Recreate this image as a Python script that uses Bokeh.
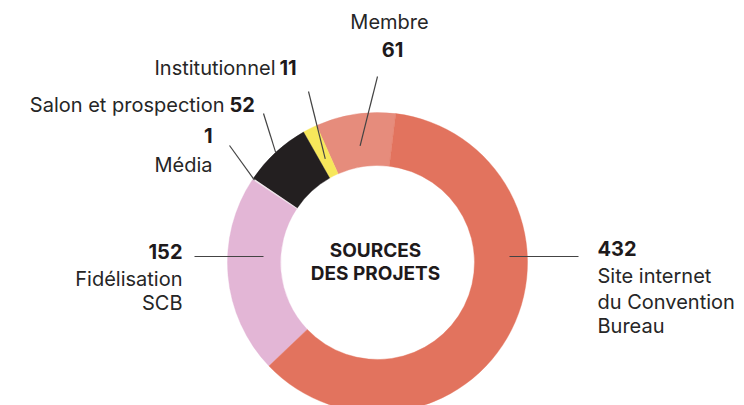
import math
from bokeh.plotting import figure
from bokeh.models import Range1d, ColumnDataSource
from bokeh.core.properties import value
from bokeh.embed import file_html
from bokeh.resources import INLINE

# ---- data (counter-clockwise order starting near 12 o'clock) ----
categories = ["Membre", "Institutionnel", "Salon et prospection", "Média",
              "Fidélisation SCB", "Site internet du Convention Bureau"]
counts = [61, 11, 52, 1, 152, 432]
colors = ["#E68C7C", "#F7E75B", "#231F20", "#F4ECF0", "#E3B6D6", "#E2735E"]
center_title = ["SOURCES", "DES PROJETS"]

W, H = 744, 405
def X(xr):
    return xr
def Y(yr):
    return H - yr

TXT_DY = 8  # baseline correction for svg text

CX, CY = X(377), Y(262)
R_IN, R_OUT = 97, 150
START_DEG = 90 - 7

total = sum(counts)
starts, ends, mids = [], [], []
acc = math.radians(START_DEG)
for c in counts:
    a = 2 * math.pi * c / total
    starts.append(acc)
    ends.append(acc + a)
    mids.append(acc + a / 2)
    acc += a

p = figure(width=W, height=H, output_backend="svg", toolbar_location=None,
           x_range=Range1d(0, W), y_range=Range1d(0, H),
           x_axis_type=None, y_axis_type=None, min_border=0)
p.grid.grid_line_color = None
p.outline_line_color = None
p.background_fill_color = "white"
p.border_fill_color = "white"

src = ColumnDataSource(dict(start=starts, end=ends, color=colors))
p.annular_wedge(x=CX, y=CY, inner_radius=R_IN, outer_radius=R_OUT,
                start_angle="start", end_angle="end", direction="anticlock",
                fill_color="color", line_color="color", line_width=0.4, source=src)

FONT = value("Inter")
REG = "#262626"
BLD = "#1E1A1B"

def txt(s, xr, yr, align="left", bold=False, size="20px"):
    p.text(x=[X(xr)], y=[Y(yr - TXT_DY)], text=[s], text_font=FONT, text_font_size=value(size),
           text_font_style="bold" if bold else "normal", text_align=align,
           text_baseline="alphabetic", text_color=BLD if bold else REG)

def leader(idx, r, xr, yr):
    a = mids[idx]
    ex, ey = CX + r * math.cos(a), CY + r * math.sin(a)
    p.line(x=[X(xr), ex], y=[Y(yr), ey], line_color="#444444", line_width=1.2)

# Membre
txt("Membre", 389, 29, "center")
txt(str(counts[0]), 392, 57, "center", bold=True)
leader(0, 118, 377, 76)
# Institutionnel
txt("Institutionnel", 275, 75, "right")
txt(str(counts[1]), 279, 75, "left", bold=True)
leader(1, 116, 308, 91)
# Salon et prospection
txt("Salon et prospection", 224, 112, "right")
txt(str(counts[2]), 229, 112, "left", bold=True)
leader(2, 150, 263, 113)
# Média
txt(str(counts[3]), 212, 143, "right", bold=True)
txt("Média", 212, 172, "right")
leader(3, 148, 229, 145)
# Fidélisation
txt(str(counts[4]), 182, 259, "right", bold=True)
txt("Fidélisation", 182, 286, "right")
txt("SCB", 182, 310, "right")
p.line(x=[X(194), X(263)], y=[Y(256), Y(256)], line_color="#444444", line_width=1.2)
# Site internet
txt(str(counts[5]), 597, 256, "left", bold=True)
txt("Site internet", 597, 283, "left")
txt("du Convention", 597, 309, "left")
txt("Bureau", 597, 333, "left")
p.line(x=[X(509), X(578)], y=[Y(256), Y(256)], line_color="#444444", line_width=1.2)

# centre title
txt(center_title[0], 375, 258, "center", bold=True, size="19px")
txt(center_title[1], 375, 281, "center", bold=True, size="19px")

open("out.html", "w").write(file_html(p, INLINE))
